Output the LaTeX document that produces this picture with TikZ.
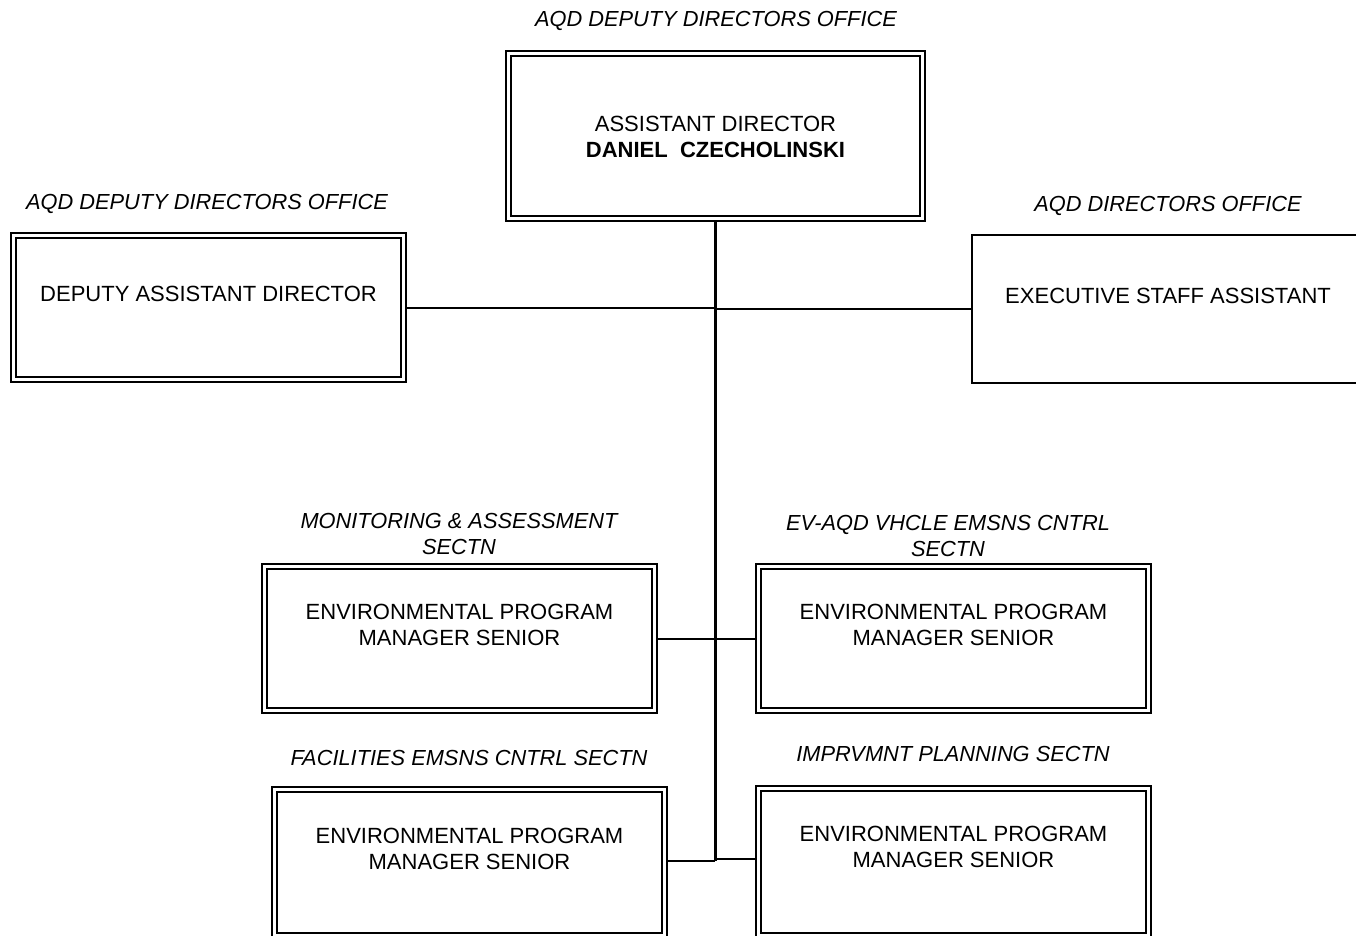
\documentclass[tikz,border=0pt]{standalone}
\usepackage{fontspec}
\setmainfont{Liberation Sans}
\usetikzlibrary{calc}
\begin{document}
\begin{tikzpicture}[x=1pt,y=-1pt,
  every node/.style={font=\fontsize{22}{26}\selectfont, inner sep=0pt, align=center},
  dbox/.style={draw, line width=1.5pt, double, double distance=3.5pt, minimum width=390pt, minimum height=144pt, rectangle},
  sbox/.style={draw, line width=2pt, minimum width=392pt, minimum height=148pt, rectangle},
  title/.style={anchor=base, font=\fontsize{21.8}{26}\selectfont\itshape},
  txt/.style={anchor=base},
  conn/.style={line width=2pt},
  trunkline/.style={line width=3pt}]
\useasboundingbox (0,0) rectangle (1356,935);
\clip (0,0) rectangle (1356,935);

% boxes
\node[dbox, minimum width=414pt, minimum height=165pt] (top) at (715.5,136) {};
\node[dbox] (dep) at (208.5,307.5) {};
\node[sbox] (exec) at (1168,309) {};
\node[dbox] (b1) at (459.5,638.5) {};
\node[dbox] (b2) at (953.5,638.5) {};
\node[dbox, minimum height=146pt] (b3) at (469.5,862.5) {};
\node[dbox, minimum height=147pt] (b4) at (953.5,862) {};

% titles (base = baseline of last line)
\node[title] (ttop) at (716,26) {AQD DEPUTY DIRECTORS OFFICE};
\node[title] (tdep) at (207,209) {AQD DEPUTY DIRECTORS OFFICE};
\node[title] (texec) at (1168,211) {AQD DIRECTORS OFFICE};
\node[title] (tb1) at (459,554) {MONITORING \& ASSESSMENT\\SECTN};
\node[title] (tb2) at (948,556) {EV-AQD VHCLE EMSNS CNTRL\\SECTN};
\node[title] (tb3) at (469,765) {FACILITIES EMSNS CNTRL SECTN};
\node[title] (tb4) at (953,761) {IMPRVMNT PLANNING SECTN};

% box texts
\node[txt] (xtop) at (715.5,157) {ASSISTANT DIRECTOR\\\textbf{DANIEL\ \ CZECHOLINSKI}};
\node[txt] (xdep) at (208.5,301) {DEPUTY ASSISTANT DIRECTOR};
\node[txt] (xexec) at (1168,303) {EXECUTIVE STAFF ASSISTANT};
\node[txt] (xb1) at (459.5,645) {ENVIRONMENTAL PROGRAM\\MANAGER SENIOR};
\node[txt] (xb2) at (953.5,645) {ENVIRONMENTAL PROGRAM\\MANAGER SENIOR};
\node[txt] (xb3) at (469.5,869) {ENVIRONMENTAL PROGRAM\\MANAGER SENIOR};
\node[txt] (xb4) at (953.5,867) {ENVIRONMENTAL PROGRAM\\MANAGER SENIOR};

% connectors
\coordinate (trunkend) at (715,861);
\draw[trunkline] ($(top.south -| trunkend)+(0,2.5)$) -- (trunkend);
\draw[conn] ($(dep.east)+(2.5,0)$) -- (dep.east -| trunkend);
\draw[conn] (exec.west -| trunkend) -- (exec.west);
\draw[conn] ($(b1.east)+(2.5,0)$) -- ($(b2.west)+(-2.5,0)$);
\draw[conn] ($(b3.east)+(2.5,-2)$) -- ($(b3.east -| trunkend)+(0,-2)$);
\draw[conn] ($(b4.west -| trunkend)+(0,-3)$) -- ($(b4.west)+(-2.5,-3)$);
\end{tikzpicture}
\end{document}
